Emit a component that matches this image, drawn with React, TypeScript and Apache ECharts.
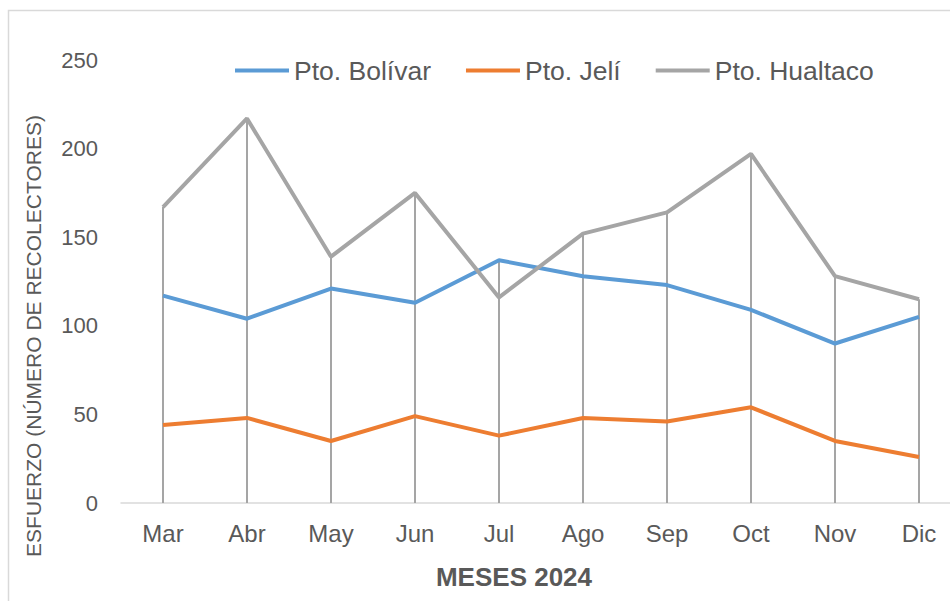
import React, { useEffect, useRef } from "react";
import * as echarts from "echarts";

const months = ["Mar", "Abr", "May", "Jun", "Jul", "Ago", "Sep", "Oct", "Nov", "Dic"];
const bolivar = [117, 104, 121, 113, 137, 128, 123, 109, 90, 105];
const jeli = [44, 48, 35, 49, 38, 48, 46, 54, 35, 26];
const hualtaco = [167, 217, 139, 175, 116, 152, 164, 197, 128, 115];
const seriesNames = ["Pto. Bolívar", "Pto. Jelí", "Pto. Hualtaco"];
const yTicks = { min: 0, max: 250, interval: 50 };

const FONT = "'Liberation Sans', Arial, sans-serif";
const TXT = "#595959";

export default function App() {
  const ref = useRef<HTMLDivElement>(null);
  useEffect(() => {
    if (!ref.current) return;
    const chart = echarts.init(ref.current, undefined, { renderer: "svg" });
    const maxes = months.map((_, i) => Math.max(bolivar[i], jeli[i], hualtaco[i]));
    const dropLines = months.map((m, i) => [
      { coord: [m, 0] },
      { coord: [m, maxes[i]] },
    ]);
    chart.setOption({
      animation: false,
      backgroundColor: "#ffffff",
      textStyle: { fontFamily: FONT },
      grid: { left: 121, width: 840, top: 60, bottom: 98, containLabel: false },
      legend: {
        left: 230,
        top: 52,
        icon: "rect",
        itemWidth: 54,
        itemHeight: 4,
        itemGap: 35,
        textStyle: { color: TXT, fontSize: 26.5, fontFamily: FONT },
        data: seriesNames,
      },
      xAxis: {
        type: "category",
        data: months,
        boundaryGap: true,
        axisLine: { show: true, lineStyle: { color: "#d9d9d9", width: 1.5 } },
        axisTick: { show: false },
        axisLabel: { color: TXT, fontSize: 24, margin: 18, fontFamily: FONT },
        splitLine: { show: false },
      },
      yAxis: {
        type: "value",
        min: yTicks.min,
        max: yTicks.max,
        interval: yTicks.interval,
        axisLine: { show: false },
        axisTick: { show: false },
        splitLine: { show: false },
        axisLabel: { color: TXT, fontSize: 22, margin: 23, fontFamily: FONT },
      },
      graphic: [
        {
          type: "rect",
          shape: { x: 8.5, y: 10.5, width: 1000, height: 1000 },
          style: { fill: "none", stroke: "#d9d9d9", lineWidth: 1.5 },
          z: -10,
        },
        {
          type: "text",
          x: 33,
          y: 336,
          rotation: Math.PI / 2,
          style: {
            text: "ESFUERZO (NÚMERO DE RECOLECTORES)",
            fill: TXT,
            font: `21px ${FONT}`,
            textAlign: "center",
            textVerticalAlign: "middle",
          },
        },
        {
          type: "text",
          x: 514,
          y: 577,
          style: {
            text: "MESES 2024",
            fill: TXT,
            font: `bold 26px ${FONT}`,
            textAlign: "center",
            textVerticalAlign: "middle",
          },
        },
      ],
      series: [
        {
          name: seriesNames[0],
          type: "line",
          data: bolivar,
          symbol: "none",
          lineStyle: { color: "#5b9bd5", width: 4 },
          itemStyle: { color: "#5b9bd5" },
          z: 3,
        },
        {
          name: seriesNames[1],
          type: "line",
          data: jeli,
          symbol: "none",
          lineStyle: { color: "#ed7d31", width: 4 },
          itemStyle: { color: "#ed7d31" },
          z: 3,
        },
        {
          name: seriesNames[2],
          type: "line",
          data: hualtaco,
          symbol: "none",
          lineStyle: { color: "#a5a5a5", width: 4 },
          itemStyle: { color: "#a5a5a5" },
          z: 3,
          markLine: {
            silent: true,
            symbol: "none",
            label: { show: false },
            lineStyle: { color: "#a5a5a5", width: 2, type: "solid" },
            z: 1,
            data: dropLines,
          },
        },
      ],
    });
    return () => chart.dispose();
  }, []);
  return (
    <div
      ref={ref}
      style={{ position: "fixed", left: 0, top: 0, width: 961, height: 601 }}
    />
  );
}
